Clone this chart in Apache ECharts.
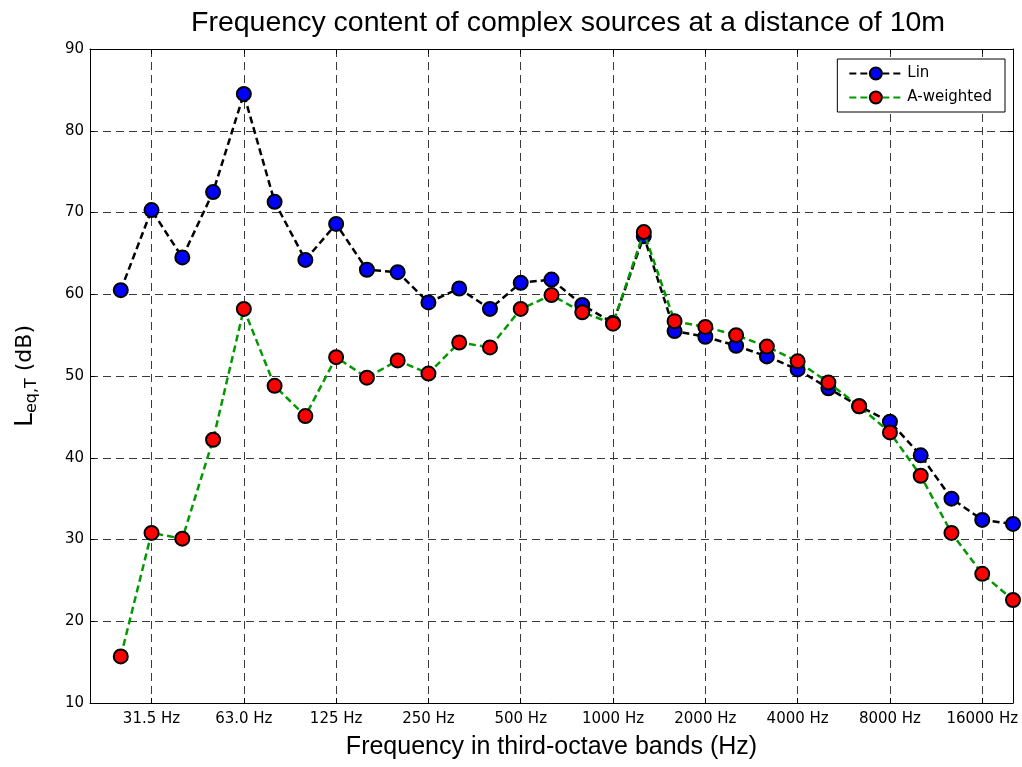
<!DOCTYPE html>
<html>
<head>
<meta charset="utf-8">
<title>Frequency content of complex sources</title>
<script src="https://cdn.jsdelivr.net/npm/echarts@6/dist/echarts.min.js"></script>
<style>
  html, body { margin: 0; padding: 0; background: #fff; }
  #chart { width: 1022px; height: 767px; }
</style>
</head>
<body>
<div id="chart"></div>
<script>
// Third-octave band centre frequencies (Hz)
const bands = ['25', '31.5', '40', '50', '63.0', '80', '100', '125', '160', '200',
  '250', '315', '400', '500', '630', '800', '1000', '1250', '1600', '2000',
  '2500', '3150', '4000', '5000', '6300', '8000', '10000', '12500', '16000', '20000'];

// Leq,T in dB, unweighted
const lin = [60.5, 70.3, 64.5, 72.5, 84.5, 71.3, 64.2, 68.6, 63.0, 62.7,
  59.0, 60.7, 58.2, 61.4, 61.8, 58.7, 56.5, 67.1, 55.5, 54.8,
  53.7, 52.4, 50.8, 48.5, 46.3, 44.4, 40.3, 35.0, 32.4, 31.9];

// Leq,T in dB, A-weighted
const aWeighted = [15.7, 30.8, 30.1, 42.2, 58.2, 48.8, 45.1, 52.3, 49.8, 51.9,
  50.3, 54.1, 53.5, 58.2, 59.9, 57.8, 56.4, 67.6, 56.7, 56.0,
  55.0, 53.6, 51.8, 49.2, 46.3, 43.1, 37.8, 30.8, 25.8, 22.6];

// Bands that carry a tick label (octave steps)
const labelledBands = ['31.5', '63.0', '125', '250', '500', '1000', '2000', '4000', '8000', '16000'];

// A blank slot before the first band leaves room on the left of the first point
const axisCats = [''].concat(bands);
const isLabelled = (idx, val) => labelledBands.indexOf(val) >= 0;

const tickFont = { fontFamily: 'DejaVu Sans', fontSize: 15, color: '#000' };
const gridDash = { color: '#3a3a3a', width: 1, type: [8, 5] };

const chart = echarts.init(document.getElementById('chart'), null, { renderer: 'canvas' });

const option = {
  backgroundColor: '#fff',
  animation: false,
  title: {
    text: 'Frequency content of complex sources at a distance of 10m',
    left: 186,
    top: 4,
    textStyle: { fontFamily: 'Liberation Sans', fontWeight: 'normal', fontSize: 28.5, color: '#000' }
  },
  grid: { left: 90, right: 9, top: 49, bottom: 64, containLabel: false, outerBoundsMode: 'none' },
  legend: {
    orient: 'vertical',
    right: 17,
    top: 59,
    padding: [7, 13, 7, 11],
    itemGap: 9,
    itemWidth: 53,
    itemHeight: 15,
    backgroundColor: '#fff',
    borderColor: '#000',
    borderWidth: 1,
    borderRadius: 0,
    textStyle: { fontFamily: 'DejaVu Sans', fontSize: 15, color: '#000' },
    data: ['Lin', 'A-weighted']
  },
  xAxis: [
    {
      type: 'category',
      data: axisCats,
      boundaryGap: false,
      name: 'Frequency in third-octave bands (Hz)',
      nameLocation: 'middle',
      nameGap: 32,
      nameTextStyle: { fontFamily: 'Liberation Sans', fontSize: 25, color: '#000' },
      axisLine: { lineStyle: { color: '#000', width: 1 } },
      axisTick: { inside: true, length: 5, interval: isLabelled, lineStyle: { color: '#000' } },
      axisLabel: Object.assign({ interval: isLabelled, margin: 9, formatter: v => v + ' Hz' }, tickFont),
      splitLine: { show: true, interval: isLabelled, lineStyle: gridDash }
    },
    {
      type: 'category',
      data: axisCats,
      boundaryGap: false,
      position: 'top',
      axisLine: { lineStyle: { color: '#000', width: 1 } },
      axisTick: { inside: true, length: 5, interval: isLabelled, lineStyle: { color: '#000' } },
      axisLabel: { show: false },
      splitLine: { show: false }
    }
  ],
  yAxis: [
    {
      type: 'value',
      min: 10,
      max: 90,
      interval: 10,
      name: '{l|L}{b|eq,T}{a| (dB)}',
      nameLocation: 'middle',
      nameGap: 50,
      nameTextStyle: {
        rich: {
          l: { fontFamily: 'DejaVu Sans', fontSize: 25, color: '#000' },
          a: { fontFamily: 'DejaVu Sans', fontSize: 22, color: '#000' },
          b: { fontFamily: 'DejaVu Sans', fontSize: 16, color: '#000', padding: [13, 0, 0, 0] }
        }
      },
      axisLine: { show: true, lineStyle: { color: '#000', width: 1 } },
      axisTick: { show: true, inside: true, length: 5, lineStyle: { color: '#000' } },
      axisLabel: Object.assign({ margin: 6 }, tickFont),
      splitLine: { show: true, lineStyle: gridDash }
    },
    {
      type: 'value',
      min: 10,
      max: 90,
      interval: 10,
      position: 'right',
      axisLine: { show: true, lineStyle: { color: '#000', width: 1 } },
      axisTick: { show: true, inside: true, length: 5, lineStyle: { color: '#000' } },
      axisLabel: { show: false },
      splitLine: { show: false }
    }
  ],
  series: [
    {
      name: 'Lin',
      type: 'line',
      data: bands.map((b, i) => [b, lin[i]]),
      symbol: 'circle',
      symbolSize: 14,
      lineStyle: { color: '#000', width: 2.5, type: [7, 4] },
      itemStyle: { color: '#0000ff', borderColor: '#000', borderWidth: 2 },
      z: 3
    },
    {
      name: 'A-weighted',
      type: 'line',
      data: bands.map((b, i) => [b, aWeighted[i]]),
      symbol: 'circle',
      symbolSize: 14,
      lineStyle: { color: '#009a00', width: 2.5, type: [7, 4] },
      itemStyle: { color: '#ff0000', borderColor: '#000', borderWidth: 2 },
      z: 4
    }
  ]
};

chart.setOption(option);
</script>
</body>
</html>
